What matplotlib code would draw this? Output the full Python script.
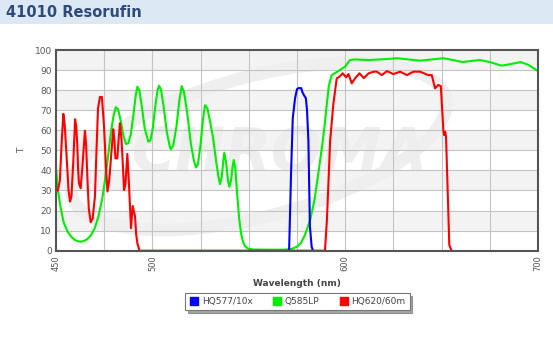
import matplotlib
matplotlib.use("Agg")
import matplotlib.pyplot as plt
from matplotlib.patches import Rectangle, Ellipse
from matplotlib.lines import Line2D

title = "41010 Resorufin"
series_names = ["HQ577/10x", "Q585LP", "HQ620/60m"]
series_colors = ["#0000ff", "#00ee00", "#ff0000"]

blue_x = [570.9, 571.9, 572.8, 574.0, 575.0, 575.7, 577.2, 577.8, 578.6, 579.6, 580.2, 580.9, 581.7, 582.6, 583.3]
blue_t = [0, 38, 66, 76, 80.5, 81, 81, 79, 77.5, 76, 70, 55, 12, 2, 0]

green_x = [450, 451, 452.5, 454, 456, 458, 460, 462.4, 464, 466, 468, 470, 472, 474, 475.4, 477, 478.5,
           479.8, 481, 482.2, 483.5, 485, 486.3, 487.5, 488.8, 490.2, 491.3, 492.2, 493.2, 494.5, 496,
           497.9, 499, 500.2, 501.5, 502.6, 503.4, 504.4, 505.8, 507.5, 509, 509.6, 510.8, 512.5, 514,
           515.2, 516.4, 518, 520, 521.5, 522.6, 523.6, 525, 526.3, 527.3, 528.5, 530, 531.5, 533, 534.3,
           535.1, 536, 536.8, 537.3, 538.2, 539.2, 539.9, 540.8, 541.6, 542.2, 543, 544, 545, 546, 547,
           548, 549.5, 552, 560, 568, 572, 575, 577, 579, 580.5, 582, 584, 586, 588, 589.4, 590.4, 591.5,
           593, 596.4, 599.9, 602.5, 605, 612, 620, 627, 633, 639, 645, 651, 656, 661, 666, 670, 675, 681,
           686, 691, 695, 700]
green_t = [41, 30, 21, 14, 9.5, 6.8, 5.2, 4.5, 4.7, 5.6, 7.5, 11, 17, 26, 35, 47, 59,
           67, 71.5, 70.5, 65, 57, 53.2, 53.5, 58, 68, 77, 81.7, 80, 72, 61,
           54.3, 55, 61, 72, 79.5, 82.2, 80.5, 72, 59, 52, 50.5, 52.5, 62, 75,
           82, 79, 69, 53, 45, 41.5, 43, 53, 66, 72.5, 71, 64, 56, 45, 36.5,
           33.2, 37, 45, 48.8, 44, 35, 31.9, 35, 42, 45.2, 41, 28, 16, 8.5, 4.5,
           2.3, 1.1, 0.6, 0.5, 0.5, 0.8, 2, 3.8, 7.5, 11.5, 16, 25, 38, 52, 63, 72.6, 82,
           87.5, 89.5, 91.7, 95, 95.3, 95, 95.4, 95.9, 95.3, 94.7, 95.3, 95.9, 95, 94, 94.6, 95, 94, 92.2,
           93, 94, 92.6, 89.5]

red_x = [450, 451, 452, 453, 453.8, 454.5, 455.5, 456.5, 457.3, 458, 459, 459.9, 460.5, 461, 461.5,
         461.9, 462.8, 463.7, 465, 465.6, 466.3, 467, 468, 469, 470.2, 471, 471.8, 472.8, 473.8, 474.9,
         476, 476.7, 477.6, 478.5, 479.7, 480.3, 480.8, 481.8, 482.5, 483.2, 484, 484.6, 485.3, 486,
         487, 487.8, 488.9, 489.8, 491, 491.6, 492.2, 493.3, 540, 589.5, 590.5, 591.3, 592.2, 593.8,
         595.6, 597, 598.7, 600.5, 601.7, 603.4, 605.2, 607.4, 609.6, 612.2, 614.8, 616.4, 619, 621.6,
         625, 628.5, 632, 635.4, 638.8, 643.1, 644.9, 646.6, 648.3, 649.6, 650.9, 651.3, 651.9, 652.3,
         654, 655.2]
red_t = [31, 30, 35, 55, 68.2, 63, 47, 30, 24.5, 27, 45, 65.5, 62, 53.5, 40,
         33.6, 31.1, 42, 59.8, 53, 36, 21, 14.2, 16, 27, 50, 71, 76.6, 76.6, 62,
         40, 29.5, 35, 46, 60.5, 55, 46, 46, 56, 63.5, 55, 44, 30.2, 33,
         48.2, 34, 11.2, 22.3, 17, 8, 3.7, 0, 0, 0, 15, 33.6, 55, 72.6,
         85.9, 86.7, 88.4, 86.4, 88, 83.4, 86, 88.4, 86, 88.4, 89.2, 89.2, 87.5, 89.5,
         88, 89.2, 87.5, 89.2, 89.2, 87.5, 87.5, 80.9, 82.6, 82, 60.1, 57.6, 59.3, 56.8,
         2.8, 0]

x_labels = [450, 500, 600, 700]
y_ticks = list(range(0, 101, 10))

W, H = 553, 343
fig = plt.figure(figsize=(W / 100, H / 100), dpi=100)
fig.patch.set_facecolor("white")

# title bar
fig.patches.append(Rectangle((0, 1 - 24 / H), 1, 24 / H, transform=fig.transFigure,
                             facecolor="#dce9f5", edgecolor="none", zorder=0))
fig.text(6 / W, 1 - 12.5 / H, title, fontsize=10.5, fontweight="bold", color="#2e4a7c",
         va="center", ha="left", family="DejaVu Sans")

L, R, T_, B = 56, 538, 50, 250.7
ax = fig.add_axes([L / W, 1 - B / H, (R - L) / W, (B - T_) / H])
ax.set_xlim(450, 700)
ax.set_ylim(0, 100)
ax.set_facecolor("white")

# alternating bands
for y0 in range(10, 100, 20):
    ax.axhspan(y0, y0 + 10, facecolor="#f3f3f3", edgecolor="none", zorder=0)

# watermark
ax.add_patch(Ellipse((555, 52), 200, 70, angle=14, fill=False, edgecolor="#efefef",
                     linewidth=9, zorder=0.5))
ax.text(566, 48, "CHROMA", fontsize=43, fontweight="bold", style="italic", color="#eeeeee",
        ha="center", va="center", zorder=0.6)

# grid
for gx in range(475, 700, 25):
    ax.axvline(gx, color="#c4c4c4", linewidth=0.8, zorder=1)
for gy in range(10, 100, 10):
    ax.axhline(gy, color="#c4c4c4", linewidth=0.8, zorder=1)

xs = [blue_x, green_x, red_x]
ts = [blue_t, green_t, red_t]
for order in [1, 0, 2]:
    ax.plot(xs[order], ts[order], color=series_colors[order], linewidth=1.5, zorder=3,
            solid_joinstyle="round")

ax.set_xticks(x_labels)
ax.set_xticklabels([str(v) for v in x_labels], rotation=90, fontsize=6, color="#555555")
ax.set_yticks(y_ticks)
ax.set_yticklabels([str(v) for v in y_ticks], fontsize=6.5, color="#555555")
ax.tick_params(length=0, pad=3)
for s in ax.spines.values():
    s.set_color("#555555")
    s.set_linewidth(1.5)
    s.set_zorder(4)

fig.text(22 / W, 1 - 150 / H, "T", rotation=90, fontsize=6.5, color="#555555",
         ha="center", va="center")
fig.text(297 / W, 1 - 283 / H, "Wavelength (nm)", fontsize=6.5, fontweight="bold",
         color="#444444", ha="center", va="center")

# legend
handles = [Line2D([], [], marker="s", linestyle="none", markersize=6,
                  markerfacecolor=c, markeredgecolor=c) for c in series_colors]
leg = fig.legend(handles, series_names, loc="center", bbox_to_anchor=(297.5 / W, 1 - 301.3 / H),
                 ncol=3, fontsize=6.5, frameon=True, fancybox=False, shadow=True,
                 handletextpad=0.35, columnspacing=2.2, borderpad=0.45, handlelength=1.0,
                 labelcolor="#444444")
leg.get_frame().set_edgecolor("#777777")
leg.get_frame().set_linewidth(0.8)

fig.savefig("out.png", dpi=100)
